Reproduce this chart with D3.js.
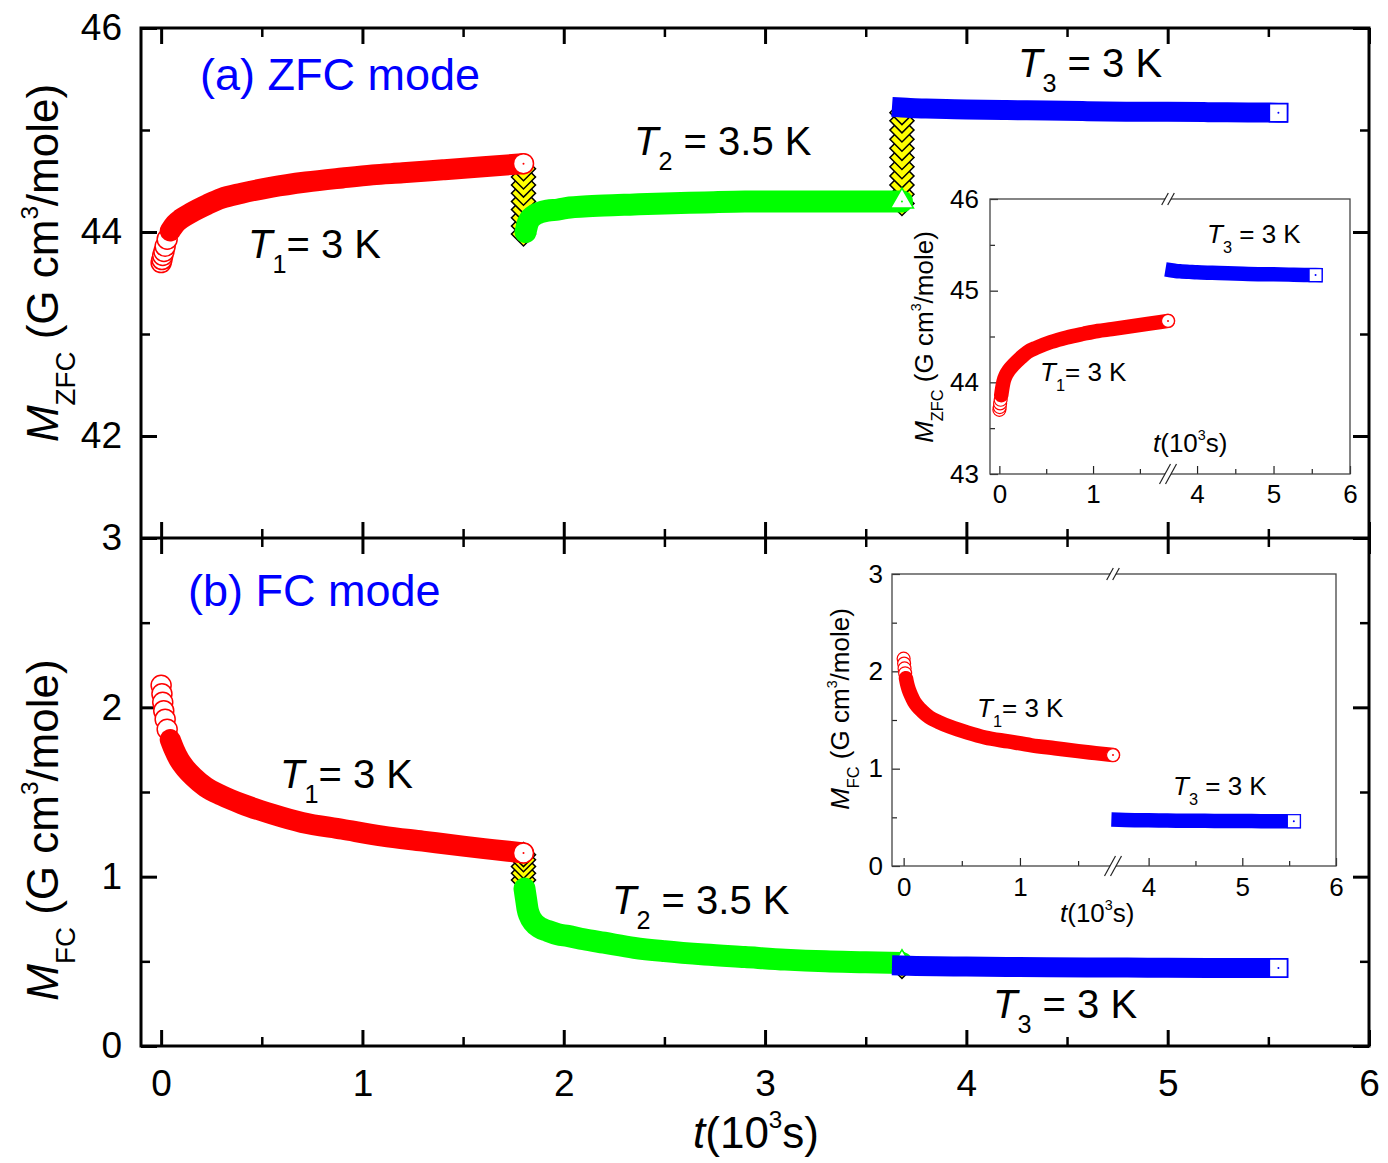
<!DOCTYPE html>
<html>
<head>
<meta charset="utf-8">
<title>ZFC / FC relaxation</title>
<script src="https://cdn.jsdelivr.net/npm/d3@7"></script>
<style>
  body { margin: 0; background: #fff; }
  text { font-family: "Liberation Sans", Arial, Helvetica, sans-serif; white-space: pre; }
</style>
</head>
<body>
<svg id="chart" width="1388" height="1163"></svg>
<script>
// ---- data (t in 10^3 s, M in G cm^3/mole) ----
// (a) ZFC mode
const zfcRedT = [0, 0.004, 0.008, 0.014, 0.02, 0.03, 0.045, 0.07, 0.1, 0.15, 0.23, 0.3, 0.4, 0.55, 0.72, 0.9, 1.05, 1.2, 1.4, 1.6, 1.8];
const zfcRedM = [43.70, 43.73, 43.77, 43.81, 43.86, 43.93, 44.01, 44.08, 44.13, 44.19, 44.27, 44.33, 44.38, 44.44, 44.49, 44.53, 44.56, 44.58, 44.61, 44.64, 44.67];
const zfcStep1T = [1.8, 1.8, 1.8, 1.8, 1.8, 1.8, 1.8, 1.8, 1.8];
const zfcStep1M = [44.62, 44.54, 44.46, 44.38, 44.30, 44.22, 44.14, 44.06, 43.98];
const zfcGreenT = [1.81, 1.815, 1.82, 1.83, 1.85, 1.88, 1.92, 1.97, 2.03, 2.1, 2.2, 2.35, 2.5, 2.7, 2.9, 3.1, 3.3, 3.5, 3.68];
const zfcGreenM = [44.0, 44.04, 44.08, 44.12, 44.16, 44.19, 44.21, 44.22, 44.24, 44.25, 44.26, 44.27, 44.28, 44.29, 44.3, 44.3, 44.3, 44.3, 44.3];
const zfcStep2T = [3.68, 3.68, 3.68, 3.68, 3.68, 3.68, 3.68, 3.68, 3.68, 3.68, 3.68];
const zfcStep2M = [44.28, 44.37, 44.46, 44.55, 44.64, 44.73, 44.82, 44.91, 45.0, 45.09, 45.17];
const zfcBlueT = [3.68, 3.72, 3.8, 3.9, 4.0, 4.2, 4.4, 4.6, 4.8, 5.0, 5.2, 5.4, 5.55];
const zfcBlueM = [45.22, 45.215, 45.21, 45.205, 45.2, 45.195, 45.19, 45.185, 45.18, 45.178, 45.175, 45.172, 45.17];

// (b) FC mode
const fcRedT = [0, 0.004, 0.008, 0.013, 0.02, 0.03, 0.045, 0.065, 0.09, 0.12, 0.16, 0.22, 0.3, 0.4, 0.55, 0.7, 0.9, 1.1, 1.3, 1.5, 1.65, 1.8];
const fcRedM = [2.13, 2.08, 2.03, 1.98, 1.93, 1.87, 1.81, 1.75, 1.69, 1.64, 1.59, 1.53, 1.48, 1.43, 1.37, 1.32, 1.28, 1.24, 1.21, 1.18, 1.16, 1.14];
const fcStep1T = [1.8, 1.8, 1.8, 1.8, 1.8];
const fcStep1M = [1.13, 1.10, 1.06, 1.02, 0.98];
const fcGreenT = [1.805, 1.81, 1.815, 1.82, 1.83, 1.85, 1.88, 1.92, 1.97, 2.02, 2.1, 2.2, 2.35, 2.5, 2.7, 2.9, 3.1, 3.3, 3.5, 3.68];
const fcGreenM = [0.93, 0.89, 0.85, 0.81, 0.77, 0.73, 0.70, 0.68, 0.66, 0.65, 0.63, 0.61, 0.58, 0.56, 0.54, 0.525, 0.51, 0.50, 0.495, 0.49];
const fcStep2T = [3.68, 3.68];
const fcStep2M = [0.47, 0.49];
const fcBlueT = [3.68, 3.75, 3.85, 4.0, 4.2, 4.4, 4.6, 4.8, 5.0, 5.2, 5.4, 5.55];
const fcBlueM = [0.475, 0.473, 0.471, 0.469, 0.467, 0.465, 0.464, 0.463, 0.462, 0.461, 0.46, 0.46];

// ticks
const xMajor = [0, 1, 2, 3, 4, 5, 6];
const xMinor = [0.5, 1.5, 2.5, 3.5, 4.5, 5.5];
const zfcMajor = [42, 44, 46];
const zfcMinor = [43, 45];
const fcMajor = [0, 1, 2, 3];
const fcMinor = [0.5, 1.5, 2.5];
const insetXMajorL = [0, 1], insetXMinorL = [0.5, 1.5];
const insetXMajorR = [4, 5, 6], insetXMinorR = [4.5, 5.5];
const insetZfcMajor = [43, 44, 45, 46], insetZfcMinor = [43.5, 44.5, 45.5];
const insetFcMajor = [0, 1, 2, 3], insetFcMinor = [0.5, 1.5, 2.5];

const RED = "#ff0000", GREEN = "#00ff00", BLUE = "#0000ff", YELLOW = "#ffff00";
const FONT = '"Liberation Sans", Arial, Helvetica, sans-serif';

const svg = d3.select("#chart");
svg.append("rect").attr("width", 1388).attr("height", 1163).attr("fill", "#fff");

// main frame
const L = 141, R = 1369, TOP = 28, MID = 538, BOT = 1046;
const x = d3.scaleLinear().domain([-0.1, 6]).range([L, R]);
const yZ = d3.scaleLinear().domain([41, 46]).range([MID, TOP]);
const yF = d3.scaleLinear().domain([0, 3]).range([BOT, MID]);

// text with italic / sub / sup pieces
function rich(sel, parts, fs) {
  let shift = 0;
  parts.forEach(p => {
    const target = p.sub ? fs * 0.38 : p.sup ? -fs * 0.45 : 0;
    const ts = sel.append("tspan").attr("dy", target - shift).text(p.s);
    shift = target;
    if (p.sub) ts.attr("font-size", fs * 0.63);
    if (p.sup) ts.attr("font-size", fs * 0.55);
    if (p.it) ts.attr("font-style", "italic");
  });
  return sel;
}

function label(parent, px, py, parts, fs, opts = {}) {
  const t = parent.append("text")
    .attr("font-size", fs)
    .attr("fill", opts.color || "#000")
    .attr("text-anchor", opts.anchor || "start");
  if (opts.rotate) t.attr("transform", `translate(${px},${py}) rotate(-90)`);
  else t.attr("x", px).attr("y", py);
  return rich(t, parts, fs);
}

function axisAt(parent, axisFn, scale, transform, vals, size, o) {
  const a = axisFn(scale).tickValues(vals).tickSize(-size).tickPadding(o.pad || 0);
  a.tickFormat(o.labels ? d3.format("d") : "");
  const g = parent.append("g").attr("transform", transform).call(a);
  g.select(".domain").remove();
  g.attr("font-size", o.fs || 10).attr("font-family", FONT);
  g.selectAll(".tick line").attr("stroke", o.color || "#000").attr("stroke-width", o.sw);
  g.selectAll(".tick text").attr("fill", "#000");
  return g;
}

// a dense run of overlapping open markers, drawn as a thick stroke,
// with the sparse first points as separate rings and the last one open
function drawSeries(g, xf, yf, ts, ms, st, rings) {
  const pts = ts.map((t, i) => [xf(t), yf(ms[i])]);
  const sym = d3.symbol().type(st.type).size(st.size);
  g.selectAll(null).data(pts.slice(0, rings)).join("path")
    .attr("d", sym)
    .attr("transform", d => `translate(${d[0]},${d[1]})`)
    .attr("fill", "#fff").attr("stroke", st.color).attr("stroke-width", st.sw);
  g.append("path")
    .attr("d", d3.line().curve(d3.curveMonotoneX)(pts.slice(rings)))
    .attr("fill", "none").attr("stroke", st.color)
    .attr("stroke-width", st.band)
    .attr("stroke-linecap", st.cap).attr("stroke-linejoin", "round");
  const last = pts[pts.length - 1];
  g.append("path").attr("d", sym())
    .attr("transform", `translate(${last[0]},${last[1]})`)
    .attr("fill", "#fff").attr("stroke", st.color).attr("stroke-width", st.sw);
  g.append("circle").attr("cx", last[0]).attr("cy", last[1]).attr("r", 1).attr("fill", st.color);
}

function drawSteps(g, xf, yf, ts, ms) {
  const idx = d3.range(ts.length).sort((a, b) => ms[a] - ms[b]);
  g.selectAll(null).data(idx).join("path")
    .attr("d", d3.symbol().type(d3.symbolSquare).size(289))
    .attr("transform", i => `translate(${xf(ts[i])},${yf(ms[i])}) rotate(45)`)
    .attr("fill", YELLOW).attr("stroke", "#000").attr("stroke-width", 1.5);
}

const circ = { type: d3.symbolCircle, size: Math.PI * 100, color: RED, sw: 1.5, band: 21, cap: "round" };
const tri = { type: d3.symbolTriangle, size: 229, color: GREEN, sw: 1.5, band: 22, cap: "round" };
const sq = { type: d3.symbolSquare, size: 324, color: BLUE, sw: 1.5, band: 20, cap: "square" };

// ---- main axes ----
const axes = svg.append("g");
[[d3.axisTop, TOP], [d3.axisBottom, MID], [d3.axisTop, MID]].forEach(([fn, yy]) => {
  axisAt(axes, fn, x, `translate(0,${yy})`, xMajor, 16, { sw: 3 });
  axisAt(axes, fn, x, `translate(0,${yy})`, xMinor, 9, { sw: 2.5 });
});
axisAt(axes, d3.axisBottom, x, `translate(0,${BOT})`, xMajor, 16, { sw: 3, labels: true, pad: 24, fs: 37 });
axisAt(axes, d3.axisBottom, x, `translate(0,${BOT})`, xMinor, 9, { sw: 2.5 });

[[yZ, zfcMajor, zfcMinor], [yF, fcMajor, fcMinor]].forEach(([ys, maj, min]) => {
  axisAt(axes, d3.axisLeft, ys, `translate(${L},0)`, maj, 16, { sw: 3, labels: true, pad: 19, fs: 37 });
  axisAt(axes, d3.axisLeft, ys, `translate(${L},0)`, min, 9, { sw: 2.5 });
  axisAt(axes, d3.axisRight, ys, `translate(${R},0)`, maj, 16, { sw: 3 });
  axisAt(axes, d3.axisRight, ys, `translate(${R},0)`, min, 9, { sw: 2.5 });
});

// ---- main data ----
const dataZ = svg.append("g");
drawSteps(dataZ, x, yZ, zfcStep1T, zfcStep1M);
drawSteps(dataZ, x, yZ, zfcStep2T, zfcStep2M);
drawSeries(dataZ, x, yZ, zfcRedT, zfcRedM, circ, 6);
drawSeries(dataZ, x, yZ, zfcGreenT, zfcGreenM, tri, 0);
drawSeries(dataZ, x, yZ, zfcBlueT, zfcBlueM, sq, 0);

const dataF = svg.append("g");
drawSteps(dataF, x, yF, fcStep1T, fcStep1M);
drawSteps(dataF, x, yF, fcStep2T, fcStep2M);
drawSeries(dataF, x, yF, fcRedT, fcRedM, circ, 6);
drawSeries(dataF, x, yF, fcGreenT, fcGreenM, tri, 0);
drawSeries(dataF, x, yF, fcBlueT, fcBlueM, sq, 0);

// frame
svg.append("rect").attr("x", L).attr("y", TOP).attr("width", R - L).attr("height", BOT - TOP)
  .attr("fill", "none").attr("stroke", "#000").attr("stroke-width", 3);
svg.append("line").attr("x1", L).attr("x2", R).attr("y1", MID).attr("y2", MID)
  .attr("stroke", "#000").attr("stroke-width", 3);

// ---- main labels ----
const T = (n, rest) => [{ s: "T", it: true }, { s: n, sub: true }, { s: rest }];
const txt = svg.append("g");
label(txt, 200, 90, [{ s: "(a) ZFC mode" }], 45, { color: BLUE });
label(txt, 188, 606, [{ s: "(b) FC mode" }], 45, { color: BLUE });
label(txt, 248, 258, T("1", "= 3 K"), 40);
label(txt, 634, 155, T("2", " = 3.5 K"), 40);
label(txt, 1018, 77, T("3", " = 3 K"), 40);
label(txt, 280, 788, T("1", "= 3 K"), 40);
label(txt, 612, 914, T("2", " = 3.5 K"), 40);
label(txt, 993, 1018, T("3", " = 3 K"), 40);
label(txt, 58, 263, [{ s: "M", it: true }, { s: "ZFC", sub: true }, { s: " (G cm" }, { s: "3", sup: true }, { s: "/mole)" }], 44, { rotate: true, anchor: "middle" });
label(txt, 58, 830, [{ s: "M", it: true }, { s: "FC", sub: true }, { s: " (G cm" }, { s: "3", sup: true }, { s: "/mole)" }], 44, { rotate: true, anchor: "middle" });
label(txt, 756, 1148, [{ s: "t", it: true }, { s: "(10" }, { s: "3", sup: true }, { s: "s)" }], 44, { anchor: "middle" });

// ---- insets (broken time axis) ----
function drawInset(box, yDom, yMaj, yMin, red, blue, o) {
  const g = svg.append("g");
  const xL = d3.scaleLinear().domain([-0.1, 1.8]).range([box.x0, box.xb]);
  const xR = d3.scaleLinear().domain([3.62, 6]).range([box.xb, box.x1]);
  const xf = t => (t < 2.7 ? xL(t) : xR(t));
  const ys = d3.scaleLinear().domain(yDom).range([box.y1, box.y0]);
  g.append("rect").attr("x", box.x0).attr("y", box.y0)
    .attr("width", box.x1 - box.x0).attr("height", box.y1 - box.y0).attr("fill", "#fff");

  const ax = { sw: 1.2, color: "#222" };
  axisAt(g, d3.axisBottom, xL, `translate(0,${box.y1})`, insetXMajorL, 8, { ...ax, labels: true, pad: o.xpad, fs: 26 });
  axisAt(g, d3.axisBottom, xL, `translate(0,${box.y1})`, insetXMinorL, 5, ax);
  axisAt(g, d3.axisBottom, xR, `translate(0,${box.y1})`, insetXMajorR, 8, { ...ax, labels: true, pad: o.xpad, fs: 26 });
  axisAt(g, d3.axisBottom, xR, `translate(0,${box.y1})`, insetXMinorR, 5, ax);
  axisAt(g, d3.axisLeft, ys, `translate(${box.x0},0)`, yMaj, 8, { ...ax, labels: true, pad: o.ypad, fs: 26 });
  axisAt(g, d3.axisLeft, ys, `translate(${box.x0},0)`, yMin, 5, ax);

  const sc = { type: d3.symbolCircle, size: Math.PI * 42, color: RED, sw: 1.2, band: 14.5, cap: "round" };
  const ss = { type: d3.symbolSquare, size: 169, color: BLUE, sw: 1.2, band: 14.5, cap: "square" };
  drawSeries(g, xf, ys, red[0], red[1], sc, 4);
  drawSeries(g, xf, ys, blue[0], blue[1], ss, 0);

  g.append("rect").attr("x", box.x0).attr("y", box.y0)
    .attr("width", box.x1 - box.x0).attr("height", box.y1 - box.y0)
    .attr("fill", "none").attr("stroke", "#444").attr("stroke-width", 1.3);
  // break marks
  [[box.y0, 6], [box.y1, 10]].forEach(([yy, h]) => {
    g.append("rect").attr("x", box.xb - 3).attr("y", yy - 2).attr("width", 6).attr("height", 4).attr("fill", "#fff");
    [-3, 3].forEach(dx => {
      g.append("line")
        .attr("x1", box.xb + dx - h * 0.55).attr("y1", yy + h)
        .attr("x2", box.xb + dx + h * 0.55).attr("y2", yy - h)
        .attr("stroke", "#222").attr("stroke-width", 1.2);
    });
  });
  return g;
}

const inZ = drawInset({ x0: 990, x1: 1350, y0: 199, y1: 474, xb: 1168 }, [43, 46], insetZfcMajor, insetZfcMinor,
  [zfcRedT, zfcRedM], [zfcBlueT, zfcBlueM], { xpad: 11, ypad: 11 });
label(inZ, 933, 337, [{ s: "M", it: true }, { s: "ZFC", sub: true }, { s: " (G cm" }, { s: "3", sup: true }, { s: "/mole)" }], 26, { rotate: true, anchor: "middle" });
label(inZ, 1207, 243, T("3", " = 3 K"), 26);
label(inZ, 1040, 381, T("1", "= 3 K"), 26);
label(inZ, 1153, 452, [{ s: "t", it: true }, { s: "(10" }, { s: "3", sup: true }, { s: "s)" }], 26);

const inF = drawInset({ x0: 892, x1: 1336, y0: 574, y1: 866, xb: 1113 }, [0, 3], insetFcMajor, insetFcMinor,
  [fcRedT, fcRedM], [fcBlueT, fcBlueM], { xpad: 12, ypad: 9 });
label(inF, 849, 709, [{ s: "M", it: true }, { s: "FC", sub: true }, { s: " (G cm" }, { s: "3", sup: true }, { s: "/mole)" }], 26, { rotate: true, anchor: "middle" });
label(inF, 977, 717, T("1", "= 3 K"), 26);
label(inF, 1173, 795, T("3", " = 3 K"), 26);
label(inF, 1060, 922, [{ s: "t", it: true }, { s: "(10" }, { s: "3", sup: true }, { s: "s)" }], 26);
</script>
</body>
</html>
